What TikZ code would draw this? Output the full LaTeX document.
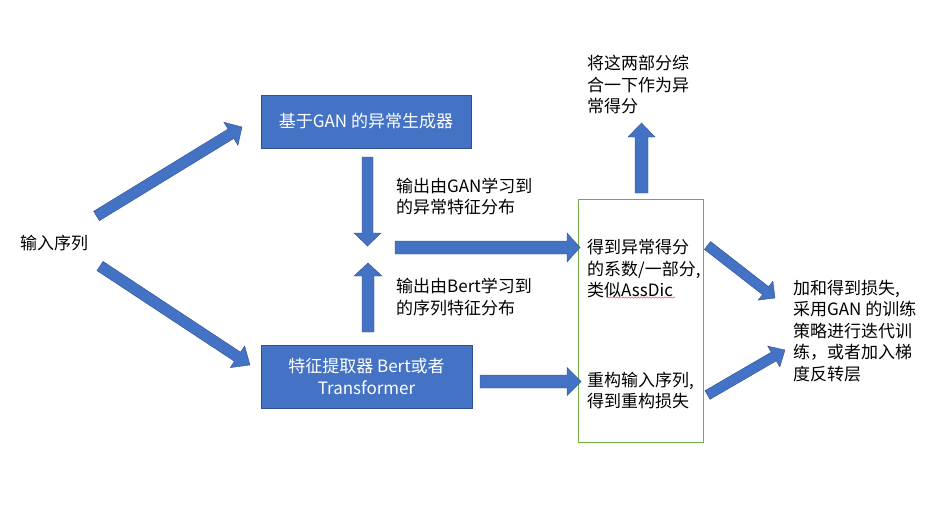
\documentclass[tikz,border=0pt]{standalone}
\usepackage{fontspec}
\newfontfamily\cjk{Noto Sans CJK SC}
\usetikzlibrary{calc,decorations.pathmorphing}
\definecolor{ablue}{HTML}{4472C4}
\definecolor{aline}{HTML}{2F528F}
\definecolor{agreen}{HTML}{70AD47}
\definecolor{squig}{HTML}{E03030}
% block arrow: tail, tip, shaft half width, head half width, head length
\newcommand\blockarrow[5]{%
  \coordinate (hb) at ($(#2)!#5!(#1)$);
  \fill[arrowshape] ($(#1)!#3!90:(#2)$) -- ($(hb)!#3!-90:(#1)$) -- ($(hb)!#4!-90:(#1)$) -- (#2)
     -- ($(hb)!#4!90:(#1)$) -- ($(hb)!#3!90:(#1)$) -- ($(#1)!#3!-90:(#2)$) -- cycle;}
\begin{document}
\begin{tikzpicture}[x=1pt,y=-1pt,
  txt/.style={font=\cjk\fontsize{17}{21.5}\selectfont, inner sep=0pt, align=left, anchor=west},
  bluebox/.style={draw=aline, fill=ablue, line width=0.8pt, text=white,
     font=\cjk\fontsize{17}{21.5}\selectfont, align=center, inner sep=0pt},
  arrowshape/.style={fill=ablue, draw=aline, line width=0.4pt}]
\useasboundingbox (0,0) rectangle (943,512);

% main nodes
\node[txt] (in) at (20,243) {输入序列};
\node[bluebox, minimum width=210pt, minimum height=53pt] (gan) at (366,121.5) {基于GAN 的异常生成器};
\node[bluebox, minimum width=211pt, minimum height=63pt] (bert) at (366.5,376.5) {特征提取器 Bert或者\\Transformer};
\node[draw=agreen, line width=0.8pt, minimum width=125pt, minimum height=243pt, inner sep=0pt] (green) at (640.5,320.5) {};

% texts
\node[txt] (top) at (587,85) {将这两部分综\\合一下作为异\\常得分};
\node[txt] (coef) at (587,269) {得到异常得分\\的系数/一部分,\\类似AssDic};
\node[txt] (recon) at (587,390.5) {重构输入序列,\\得到重构损失};
\node[txt] (ganout) at (396,196.5) {输出由GAN学习到\\的异常特征分布};
\node[txt] (bertout) at (396,297) {输出由Bert学习到\\的序列特征分布};
\node[txt] (loss) at (793,331) {加和得到损失,\\采用GAN 的训练\\策略进行迭代训\\练，或者加入梯\\度反转层};

% spell-check squiggle
\draw[squig, line width=0.4pt, decorate, decoration={snake, segment length=3pt, amplitude=0.7pt}] (607,297.5) -- (675,297.5);

% arrow end points
\coordinate (a1s) at (96.5,216);  \coordinate (a1e) at (242,127);
\coordinate (a2s) at (100,266);   \coordinate (a2e) at (250,365);
\coordinate (a3s) at (367.5,157); \coordinate (a3e) at (367.5,246);
\coordinate (a4s) at (368,332);   \coordinate (a4e) at (368,263);
\coordinate (a5s) at (395,247.5); \coordinate (a5e) at (580,247.5);
\coordinate (a6s) at (480,381.5); \coordinate (a6e) at (581,381.5);
\coordinate (a7s) at (641.5,193); \coordinate (a7e) at (641.5,123);
\coordinate (a8s) at (707.5,245.5); \coordinate (a8e) at (775,298);
\coordinate (a9s) at (707.5,395); \coordinate (a9e) at (785,350);

\blockarrow{a1s}{a1e}{5.5pt}{13.5pt}{13pt}
\blockarrow{a2s}{a2e}{5.5pt}{13pt}{15pt}
\blockarrow{a3s}{a3e}{5.5pt}{13.5pt}{13pt}
\blockarrow{a4s}{a4e}{6pt}{14pt}{13pt}
\blockarrow{a5s}{a5e}{6.5pt}{14.5pt}{13pt}
\blockarrow{a6s}{a6e}{6.5pt}{14pt}{14pt}
\blockarrow{a7s}{a7e}{6.5pt}{13.5pt}{14pt}
\blockarrow{a8s}{a8e}{5pt}{12pt}{12pt}
\blockarrow{a9s}{a9e}{5pt}{12pt}{13pt}
\end{tikzpicture}
\end{document}
